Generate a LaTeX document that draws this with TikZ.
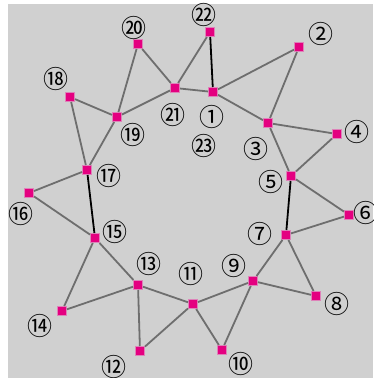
\documentclass[tikz,border=0pt]{standalone}
\usepackage{fontspec}
\newfontfamily\cjk{Noto Sans CJK JP}
\definecolor{bg}{RGB}{208,208,208}
\definecolor{edgegray}{RGB}{110,110,110}
\definecolor{mag}{RGB}{228,0,128}
\definecolor{maglight}{RGB}{222,130,185}
\begin{document}
\begin{tikzpicture}[x=1pt,y=-1pt,
  vtx/.style={rectangle,inner sep=0pt,minimum size=9pt,fill=mag,draw=maglight,line width=1pt},
  lbl/.style={inner sep=0pt,font=\cjk\fontsize{25}{25}\selectfont},
  ge/.style={draw=edgegray,line width=1.8pt},
  be/.style={draw=black,line width=1.8pt}]
\useasboundingbox (0,0) rectangle (373,378);
\fill[white] (0,0) rectangle (373,378);
\fill[bg] (8,4) rectangle (373,378);
% vertices
\node[vtx] (v1) at (213,92) {};
\node[vtx] (v2) at (299,47) {};
\node[vtx] (v3) at (268,123) {};
\node[vtx] (v4) at (337,134) {};
\node[vtx] (v5) at (291,176) {};
\node[vtx] (v6) at (349,215) {};
\node[vtx] (v7) at (286,235) {};
\node[vtx] (v8) at (316,296) {};
\node[vtx] (v9) at (253,281) {};
\node[vtx] (v10) at (222,350) {};
\node[vtx] (v11) at (193,304) {};
\node[vtx] (v12) at (140,351) {};
\node[vtx] (v13) at (138,285) {};
\node[vtx] (v14) at (62,311) {};
\node[vtx] (v15) at (95,238) {};
\node[vtx] (v16) at (29,193) {};
\node[vtx] (v17) at (87,170) {};
\node[vtx] (v18) at (70,97) {};
\node[vtx] (v19) at (117,117) {};
\node[vtx] (v20) at (138,44) {};
\node[vtx] (v21) at (175,88) {};
\node[vtx] (v22) at (210,32) {};
% labels
\node[lbl] (l1) at (212,117) {①};
\node[lbl] (l2) at (321,34) {②};
\node[lbl] (l3) at (256,149) {③};
\node[lbl] (l4) at (357,132) {④};
\node[lbl] (l5) at (271,182) {⑤};
\node[lbl] (l6) at (366,213) {⑥};
\node[lbl] (l7) at (260,234) {⑦};
\node[lbl] (l8) at (337,304) {⑧};
\node[lbl] (l9) at (234,266) {⑨};
\node[lbl] (l10) at (241,364) {⑩};
\node[lbl] (l11) at (191,274) {⑪};
\node[lbl] (l12) at (114,367) {⑫};
\node[lbl] (l13) at (149,264) {⑬};
\node[lbl] (l14) at (40,326) {⑭};
\node[lbl] (l15) at (115,232) {⑮};
\node[lbl] (l16) at (21,214) {⑯};
\node[lbl] (l17) at (109,176) {⑰};
\node[lbl] (l18) at (56,79) {⑱};
\node[lbl] (l19) at (133,135) {⑲};
\node[lbl] (l20) at (134,28) {⑳};
\node[lbl] (l21) at (173,115) {㉑};
\node[lbl] (l22) at (204,15) {㉒};
\node[lbl] (l23) at (204,146) {㉓};
% edges
\foreach \a/\b in {1/2,2/3,1/3,3/4,4/5,3/5,5/6,6/7,7/8,8/9,7/9,9/10,10/11,9/11,11/12,12/13,11/13,13/14,14/15,13/15,15/16,16/17,17/18,18/19,17/19,19/20,20/21,19/21,21/22,21/1}
  \draw[ge] (v\a) -- (v\b);
\foreach \a/\b in {1/22,5/7,15/17}
  \draw[be] (v\a) -- (v\b);
\end{tikzpicture}
\end{document}
